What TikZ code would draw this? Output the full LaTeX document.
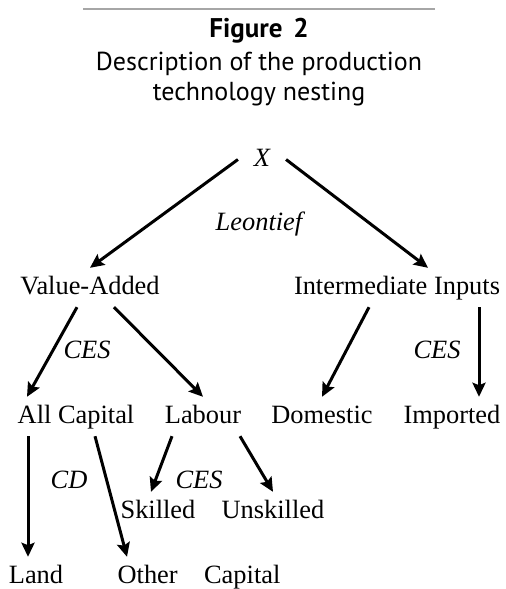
\documentclass[tikz,border=0pt]{standalone}
\usepackage{fontspec}
\setmainfont{Liberation Serif}
\newfontfamily\titlefont{PT Sans}
\usetikzlibrary{arrows.meta}

\begin{document}
\begin{tikzpicture}[
    x=0.5pt,
    y=-0.5pt,
    >={Stealth[length=7pt,width=6.5pt,inset=1.2pt]},
    lbl/.style={
        anchor=base,
        inner sep=0pt,
        text height=9.1pt,
        text depth=2.6pt,
        outer ysep=4pt,
        outer xsep=2pt,
        font=\fontsize{13.2}{15}\selectfont
    },
    elas/.style={
        anchor=base,
        inner sep=0pt,
        font=\fontsize{13.2}{15}\selectfont\itshape
    },
    heading/.style={
        inner sep=0pt,
        anchor=base,
        font=\titlefont\fontsize{13}{16.5}\selectfont
    },
    arr/.style={
        ->,
        line width=1.5pt
    }
]
    \useasboundingbox (0,0) rectangle (506,589);

    % Kopf
    \draw[gray!70, line width=1.2pt] (83,9) -- (435,9);
    \node[heading, font=\titlefont\bfseries\fontsize{13.5}{16.5}\selectfont]
        (figno) at (259,37) {Figure\hspace{0.15em} 2};
    \node[heading] (caption) at (259,70)
        {Description of the production};
    \node[heading] (caption2) at (259,100)
        {technology nesting};

    % Baum
    \node[lbl, outer xsep=8pt] (x) at (262,166) {\itshape X};
    \node[elas] (leontief) at (259,230) {Leontief};

    \node[lbl] (va) at (90,294) {Value-Added};
    \node[lbl] (ii) at (397,294) {Intermediate Inputs};

    \node[elas] (cesva) at (87,358) {CES};
    \node[elas] (cesii) at (437,358) {CES};

    \node[lbl] (allcap) at (76,423) {All Capital};
    \node[lbl] (labour) at (203,423) {Labour};
    \node[lbl] (domestic) at (322,423) {Domestic};
    \node[lbl] (imported) at (452,423) {Imported};

    \node[elas] (cd) at (69,488) {CD};
    \node[elas] (ceslab) at (199,488) {CES};

    \node[lbl] (skilled) at (158,518) {Skilled};
    \node[lbl] (unskilled) at (273,518) {Unskilled};

    \node[lbl] (land) at (36,583) {Land};
    \node[lbl] (othercap) at (199,583) {Other\hspace{1em}Capital};

    \draw[arr]
        (x.west) -- (va.north);
    \draw[arr]
        (x.east) -- ([xshift=15.5pt]ii.north);

    \draw[arr]
        ([xshift=-6.5pt]va.south) -- ([xshift=-24.5pt]allcap.north);
    \draw[arr]
        ([xshift=12pt]va.south) -- (labour.north);

    \draw[arr]
        ([xshift=-14pt]ii.south) -- (domestic.north);
    \draw[arr]
        ([xshift=41pt]ii.south) --
        ([xshift=41pt]ii.south |- imported.north);

    \draw[arr]
        ([xshift=-24pt]allcap.south) --
        ([xshift=-24pt]allcap.south |- land.north);
    \draw[arr]
        ([xshift=9.5pt]allcap.south) -- ([xshift=-36pt]othercap.north);

    \draw[arr]
        ([xshift=-15.5pt]labour.south) -- ([xshift=-3.5pt]skilled.north);
    \draw[arr]
        ([xshift=18.5pt]labour.south) -- (unskilled.north);
\end{tikzpicture}
\end{document}
